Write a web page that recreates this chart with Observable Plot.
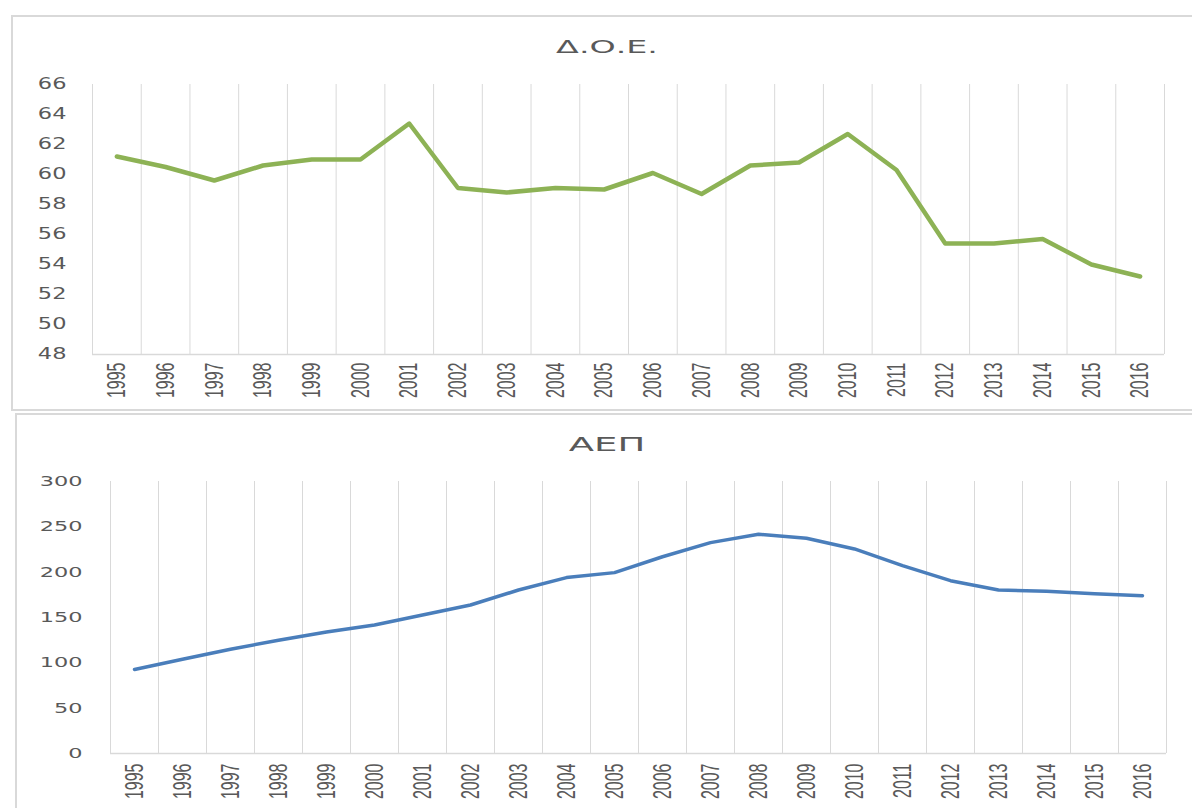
<!DOCTYPE html>
<html>
<head>
<meta charset="utf-8">
<script src="https://cdn.jsdelivr.net/npm/d3@7"></script>
<script src="https://cdn.jsdelivr.net/npm/@observablehq/plot@0.6"></script>
<style>
  html, body { margin: 0; padding: 0; background: #fff; }
  #page { position: relative; width: 1192px; height: 808px; overflow: hidden; background: #fff; }
  .frame { position: absolute; border: 2px solid #d9d9d9; background: #fff; }
  .title { position: absolute; left: 0; width: 1214px; text-align: center; color: #595959;
           font-family: "DejaVu Sans", sans-serif; transform: scaleX(1.85); transform-origin: 607px 50%; white-space: nowrap; }
  .chart { position: absolute; left: 0; }
</style>
</head>
<body>
<div id="page">
  <div class="frame" style="left:11px; top:15px; width:1200px; height:392px;"></div>
  <div class="frame" style="left:15px; top:413px; width:1200px; height:420px;"></div>
  <div class="title" id="t1" style="top:38px; font-size:18px; line-height:18px;"></div>
  <div class="title" id="t2" style="top:434px; font-size:20px; line-height:20px;"></div>
  <div class="chart" id="c1" style="top:74px;"></div>
  <div class="chart" id="c2" style="top:470px;"></div>
</div>
<script>
// ---- data ----
const years = [1995, 1996, 1997, 1998, 1999, 2000, 2001, 2002, 2003, 2004, 2005,
               2006, 2007, 2008, 2009, 2010, 2011, 2012, 2013, 2014, 2015, 2016];
const doeValues = [61.2, 60.5, 59.6, 60.6, 61.0, 61.0, 63.4, 59.1, 58.8, 59.1, 59.0,
                   60.1, 58.7, 60.6, 60.8, 62.7, 60.3, 55.4, 55.4, 55.7, 54.0, 53.2];
const aepValues = [92.7, 104, 115, 125, 134, 141.7, 152.7, 163.8, 180.3, 194, 199.5,
                   217, 232.6, 241.8, 237.4, 225.6, 207.2, 190.6, 180.3, 179, 176.3, 174];
const doeTicks = [48, 50, 52, 54, 56, 58, 60, 62, 64, 66];
const aepTicks = [0, 50, 100, 150, 200, 250, 300];
const title1 = "Δ.Ο.Ε.";
const title2 = "ΑΕΠ";

// ---- build ----
const edges = years.map(y => y - 0.5).concat([years[years.length - 1] + 0.5]);
const doeData = years.map((y, i) => ({year: y, value: doeValues[i]}));
const aepData = years.map((y, i) => ({year: y, value: aepValues[i]}));

document.getElementById("t1").textContent = title1;
document.getElementById("t2").textContent = title2;

function stretch(svg, label, s) {
  svg.querySelectorAll(`g[aria-label="${label}"] text`).forEach(t => {
    const tr = t.getAttribute("transform") || "";
    t.setAttribute("transform", tr + " " + s);
  });
}

function makeChart({data, ticks, color, width, curve, height, mt, mb, ml, mr, yFont, yScale, xPad, yPad}) {
  const svg = Plot.plot({
    width: 1192, height,
    marginTop: mt, marginBottom: mb, marginLeft: ml, marginRight: mr,
    style: {background: "transparent", color: "#595959"},
    x: {type: "linear", domain: [edges[0], edges[edges.length - 1]]},
    y: {domain: [ticks[0], ticks[ticks.length - 1]]},
    marks: [
      Plot.ruleX(edges, {stroke: "#d9d9d9", strokeWidth: 1}),
      Plot.ruleY([ticks[0]], {stroke: "#d9d9d9", strokeWidth: 1.5}),
      Plot.axisY({ticks, tickSize: 0, tickPadding: yPad, label: null,
                  fontSize: yFont, fontFamily: "DejaVu Sans", fill: "#595959"}),
      Plot.axisX({ticks: years, tickSize: 0, tickPadding: xPad, tickRotate: -90, label: null,
                  tickFormat: d => String(d), fontSize: 16, fontFamily: "Liberation Sans, Arial", fill: "#595959"}),
      Plot.line(data, {x: "year", y: "value", stroke: color, strokeWidth: width, curve,
                       strokeLinejoin: "round", strokeLinecap: "round"})
    ]
  });
  stretch(svg, "y-axis tick label", `scale(${yScale},1)`);
  stretch(svg, "x-axis tick label", "scale(1,1.6)");
  return svg;
}

document.getElementById("c1").appendChild(makeChart({
  data: doeData, ticks: doeTicks, color: "#8DB255", width: 4.5, curve: "linear",
  height: 330, mt: 10, mb: 50, ml: 92, mr: 28, yFont: 15, yScale: 1.5, xPad: 8, yPad: 26
}));
document.getElementById("c2").appendChild(makeChart({
  data: aepData, ticks: aepTicks, color: "#4A7EBB", width: 3.5, curve: "linear",
  height: 338, mt: 11, mb: 55, ml: 110, mr: 26, yFont: 14, yScale: 1.6, xPad: 10, yPad: 28
}));
</script>
</body>
</html>
